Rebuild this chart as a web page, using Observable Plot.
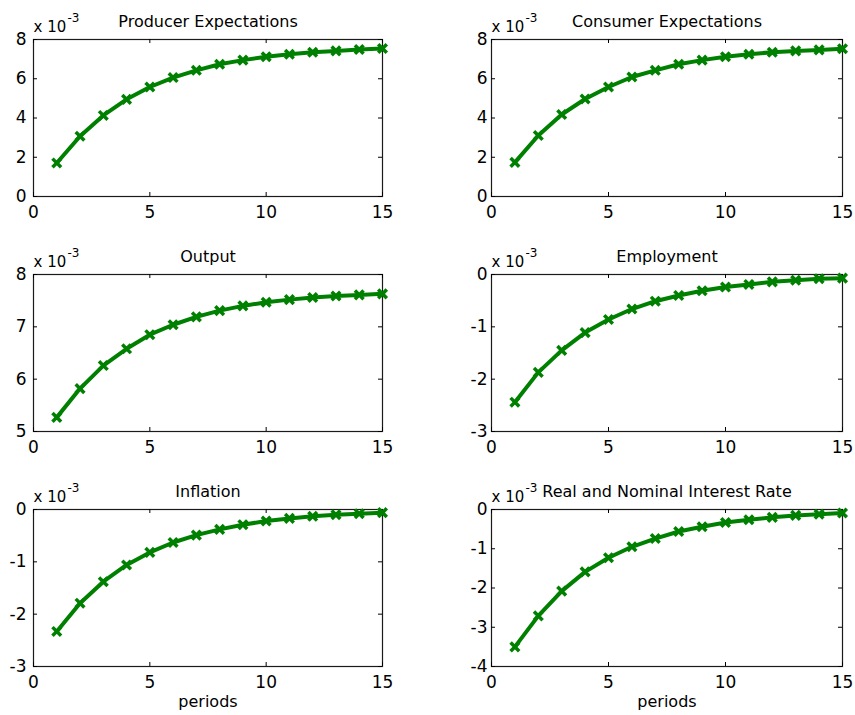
<!DOCTYPE html>
<html>
<head>
<meta charset="utf-8">
<script src="https://cdn.jsdelivr.net/npm/d3@7"></script>
<script src="https://cdn.jsdelivr.net/npm/@observablehq/plot@0.6"></script>
<style>
  body { margin: 0; background: #fff; }
  #wrap { position: relative; width: 855px; height: 715px; background: #fff; overflow: hidden; }
  .panel { position: absolute; }
</style>
</head>
<body>
<div id="wrap"></div>
<script>
// periods
const periods = [1,2,3,4,5,6,7,8,9,10,11,12,13,14,15];
const xTicks = [0,5,10,15];

// panel titles
const titles = ["Producer Expectations","Consumer Expectations","Output","Employment","Inflation","Real and Nominal Interest Rate"];

// series values (units of 10^-3)
const producerExp = [1.71,3.07,4.13,4.95,5.58,6.06,6.43,6.74,6.95,7.12,7.25,7.35,7.42,7.49,7.54];
const consumerExp = [1.74,3.11,4.18,4.97,5.58,6.09,6.43,6.74,6.95,7.12,7.25,7.35,7.42,7.47,7.53];
const output      = [5.27,5.82,6.26,6.58,6.85,7.04,7.19,7.31,7.40,7.47,7.52,7.56,7.59,7.61,7.63];
const employment  = [-2.44,-1.87,-1.45,-1.11,-0.86,-0.66,-0.51,-0.40,-0.31,-0.24,-0.19,-0.14,-0.11,-0.08,-0.07];
const inflation   = [-2.33,-1.79,-1.38,-1.06,-0.82,-0.63,-0.49,-0.38,-0.29,-0.22,-0.17,-0.13,-0.10,-0.08,-0.06];
const interest    = [-3.50,-2.71,-2.08,-1.59,-1.23,-0.95,-0.74,-0.56,-0.44,-0.33,-0.26,-0.20,-0.15,-0.12,-0.09];

// y tick labels per panel
const yTicks1 = [0,2,4,6,8];
const yTicks2 = [0,2,4,6,8];
const yTicks3 = [5,6,7,8];
const yTicks4 = [-3,-2,-1,0];
const yTicks5 = [-3,-2,-1,0];
const yTicks6 = [-4,-3,-2,-1,0];

const seriesList = [producerExp, consumerExp, output, employment, inflation, interest];
const yTickList = [yTicks1, yTicks2, yTicks3, yTicks4, yTicks5, yTicks6];

const FONT = "DejaVu Sans";
const GREEN = "#008000";

const wrap = document.getElementById("wrap");

seriesList.forEach((vals, i) => {
  const col = i % 2, row = Math.floor(i / 2);
  const bottomRow = row === 2;
  const left = col === 0 ? 0 : 430;
  const top = row * 235;
  const width = col === 0 ? 430 : 425;
  const height = bottomRow ? 245 : 235;
  const mL = col === 0 ? 33 : 61;
  const mR = col === 0 ? 48 : 13;
  const mT = 39;
  const mB = height - mT - 157;
  const pw = width - mL - mR, ph = height - mT - mB;
  const yt = yTickList[i];
  const data = periods.map((p, k) => ({period: p, value: vals[k]}));

  const marks = [
    Plot.frame({stroke: "#1a1a1a", strokeWidth: 1.2}),
    Plot.tickX(xTicks, {x: d => d, insetTop: ph - 4, stroke: "black"}),
    Plot.tickX(xTicks, {x: d => d, insetBottom: ph - 4, stroke: "black"}),
    Plot.tickY(yt, {y: d => d, insetRight: pw - 4, stroke: "black"}),
    Plot.tickY(yt, {y: d => d, insetLeft: pw - 4, stroke: "black"}),
    Plot.axisX(xTicks, {tickSize: 0, tickPadding: 9, fontSize: 17, tickFormat: d => String(d), label: null}),
    Plot.axisY(yt, {tickSize: 0, tickPadding: col === 0 ? 7 : 4, fontSize: 17, tickFormat: d => String(d), label: null}),
    Plot.line(data, {x: "period", y: "value", stroke: GREEN, strokeWidth: 4, strokeLinejoin: "round"}),
    Plot.dot(data, {x: "period", y: "value", symbol: "times", r: 4, stroke: GREEN, strokeWidth: 3.5}),
    Plot.text([titles[i]], {frameAnchor: "top", dy: -13, lineAnchor: "bottom", fontSize: 16, fill: "black"}),
    Plot.text(["x 10"], {frameAnchor: "top-left", dy: -8, lineAnchor: "bottom", textAnchor: "start", fontSize: 15, fill: "black"}),
    Plot.text(["-3"], {frameAnchor: "top-left", dx: 34, dy: -18, lineAnchor: "bottom", textAnchor: "start", fontSize: 12, fill: "black"})
  ];
  if (bottomRow) {
    marks.push(Plot.text(["periods"], {frameAnchor: "bottom", dy: 29, lineAnchor: "top", fontSize: 16, fill: "black"}));
  }

  const chart = Plot.plot({
    width, height,
    marginLeft: mL, marginRight: mR, marginTop: mT, marginBottom: mB,
    x: {domain: [0, 15]},
    y: {domain: [yt[0], yt[yt.length - 1]]},
    style: {fontFamily: FONT, background: "transparent", color: "black", overflow: "visible"},
    marks
  });
  const div = document.createElement("div");
  div.className = "panel";
  div.style.left = left + "px";
  div.style.top = top + "px";
  div.appendChild(chart);
  wrap.appendChild(div);
});
</script>
</body>
</html>
